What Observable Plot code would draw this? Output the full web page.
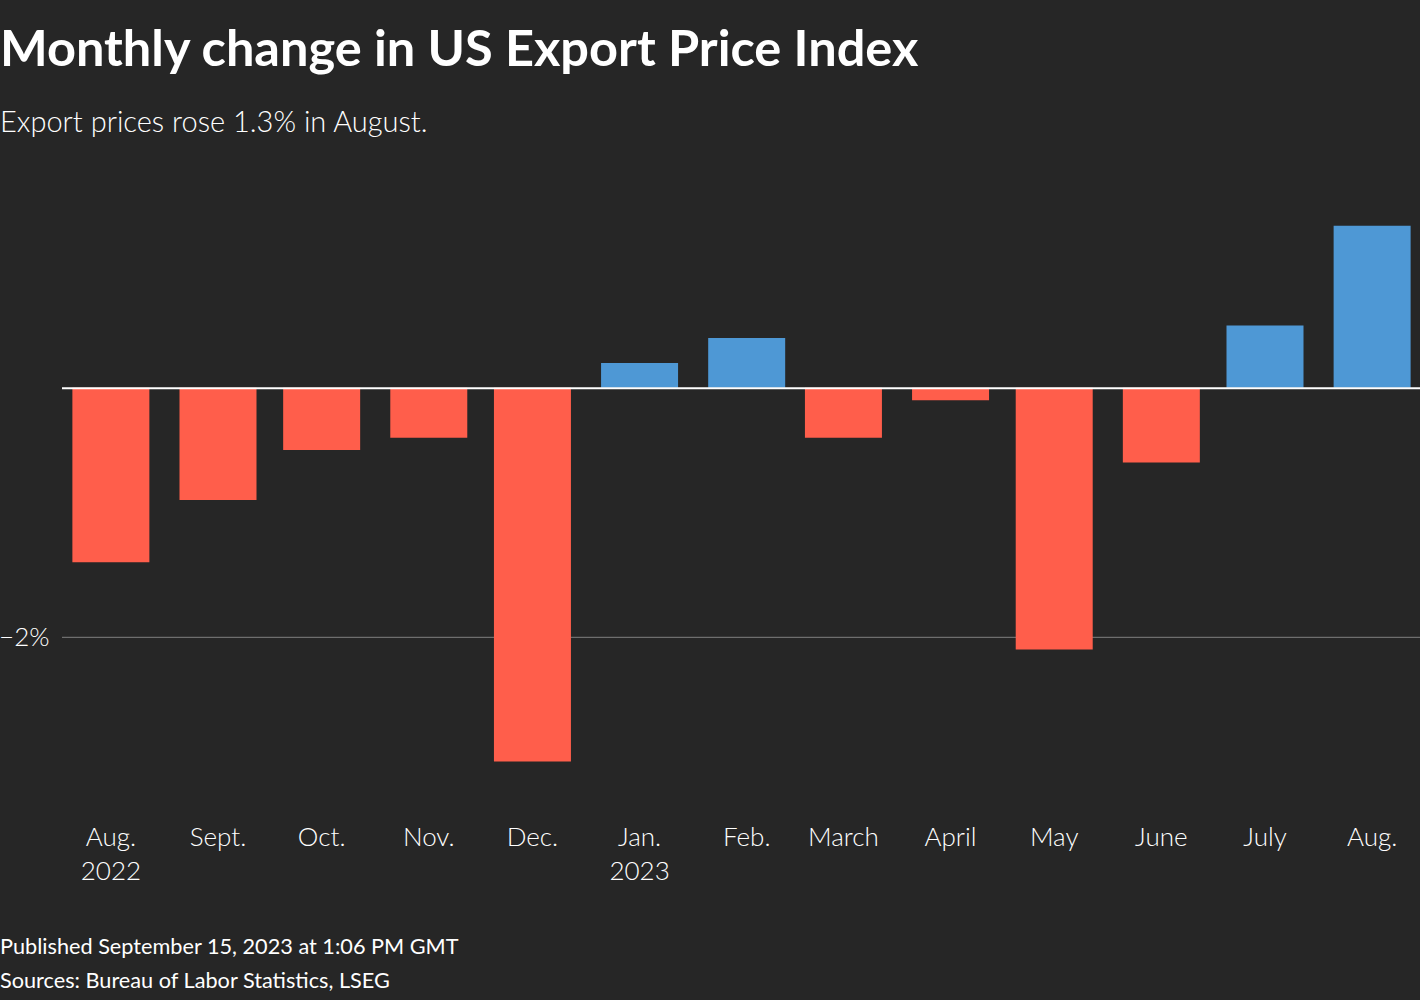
<!DOCTYPE html>
<html>
<head>
<meta charset="utf-8">
<script src="https://cdn.jsdelivr.net/npm/d3@7"></script>
<script src="https://cdn.jsdelivr.net/npm/@observablehq/plot@0.6"></script>
<style>
  html, body { margin: 0; padding: 0; background: #262626; }
  body { width: 1420px; height: 1000px; position: relative; overflow: hidden; font-family: Lato, "Noto Sans", sans-serif; color: #fff; }
  #title { position: absolute; left: 0; top: 17px; font-size: 50.5px; font-weight: 700; line-height: 60px; white-space: nowrap; }
  #subtitle { position: absolute; left: 0; top: 103px; font-size: 29px; font-weight: 300; line-height: 36px; white-space: nowrap; }
  #chart { position: absolute; left: 0; top: 160px; }
  #footer { position: absolute; left: 0; top: 929px; font-size: 21.7px; font-weight: 400; line-height: 34px; white-space: nowrap; }
</style>
</head>
<body>
<div id="title">Monthly change in US Export Price Index</div>
<div id="subtitle">Export prices rose 1.3% in August.</div>
<div id="chart"></div>
<div id="footer">Published September 15, 2023 at 1:06 PM GMT<br>Sources: Bureau of Labor Statistics, LSEG</div>
<script>
const months = ["2022-08-01", "2022-09-01", "2022-10-01", "2022-11-01", "2022-12-01", "2023-01-01", "2023-02-01", "2023-03-01", "2023-04-01", "2023-05-01", "2023-06-01", "2023-07-01", "2023-08-01"];
const monthLabels = ["Aug.\n2022", "Sept.", "Oct.", "Nov.", "Dec.", "Jan.\n2023", "Feb.", "March", "April", "May", "June", "July", "Aug."];
const changes = [-1.4, -0.9, -0.5, -0.4, -3.0, 0.2, 0.4, -0.4, -0.1, -2.1, -0.6, 0.5, 1.3];
const yTicks = [-2];

const dates = months.map(s => new Date(s + "T00:00:00Z"));
const data = dates.map((d, i) => ({date: d, change: changes[i]}));
const labelOf = new Map(dates.map((d, i) => [+d, monthLabels[i]]));

const fmt = d => `${d < 0 ? "\u2212" : ""}${Math.abs(d)}%`;

const chart = Plot.plot({
  width: 1420,
  height: 734,
  marginLeft: 62,
  marginRight: 0,
  marginTop: 16,
  marginBottom: 120,
  style: {background: "#262626", color: "#fff", fontFamily: "Lato, 'Noto Sans', sans-serif", fontSize: "26px", fontWeight: 300},
  x: {type: "utc", domain: [new Date("2022-07-18T00:00:00Z"), new Date("2023-08-15T00:00:00Z")], label: null},
  y: {domain: [-3.1, 1.7], label: null},
  marks: [
    Plot.ruleY(yTicks, {stroke: "#6e6e6e", strokeWidth: 1.3}),
    Plot.ruleX(data, {x: "date", y1: 0, y2: "change", strokeWidth: 77, stroke: d => d.change >= 0 ? "#4e98d5" : "#ff5e4b"}),
    Plot.ruleY([0], {stroke: "#fff", strokeWidth: 2}),
    Plot.axisY(yTicks, {tickSize: 0, tickPadding: 13, tickFormat: fmt, fontSize: 26, fontWeight: 300, fill: "#fff", label: null}),
    Plot.axisX(dates, {tickSize: 0, tickPadding: 48, tickFormat: d => labelOf.get(+d), fontSize: 26, fontWeight: 300, fill: "#fff", lineHeight: 1.29, label: null})
  ]
});
document.getElementById("chart").appendChild(chart);
</script>
</body>
</html>
